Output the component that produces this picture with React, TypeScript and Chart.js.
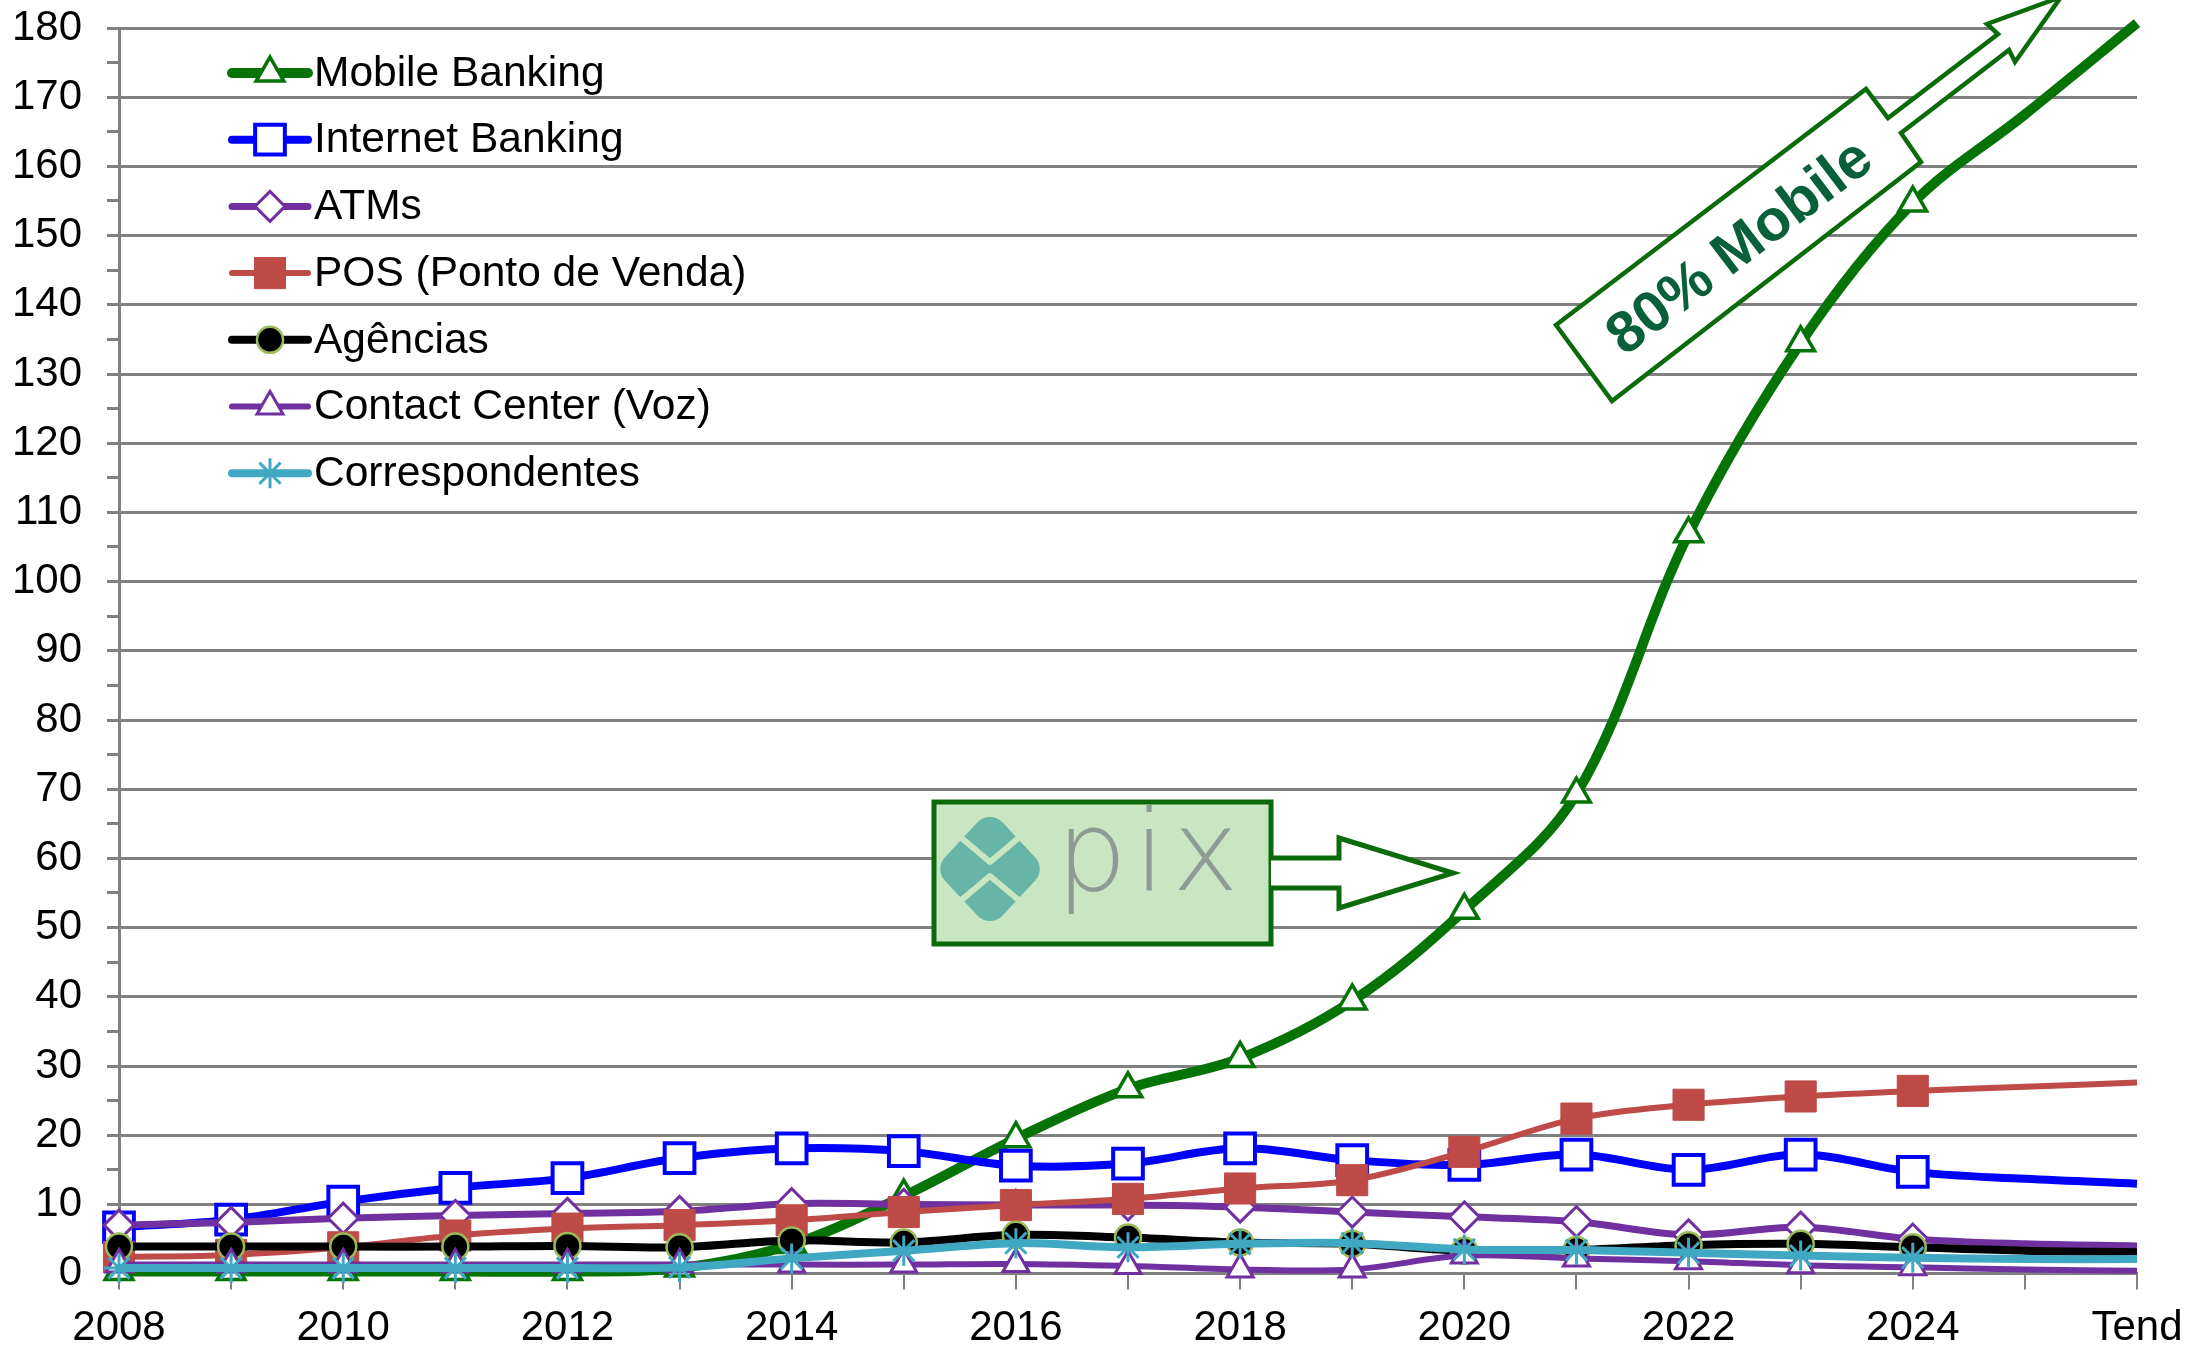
import React, { useEffect, useRef } from 'react';
import { Chart, registerables } from 'chart.js';
import { drawPoint } from 'chart.js/helpers';

Chart.register(...registerables);

const FONT = '"Liberation Sans", Arial, Helvetica, sans-serif';

// ---------- data ----------
const categories = ['2008', '2009', '2010', '2011', '2012', '2013', '2014', '2015', '2016', '2017', '2018', '2019', '2020', '2021', '2022', '2023', '2024', '2025', 'Tend'];
const seriesNames = ['Mobile Banking', 'Internet Banking', 'ATMs', 'POS (Ponto de Venda)', 'Agências', 'Contact Center (Voz)', 'Correspondentes'];
const mobileBanking = [0.3, 0.3, 0.3, 0.3, 0.3, 0.8, 4.2, 11.2, 19.5, 26.7, 31.1, 39.4, 52.5, 69.3, 106.9, 134.5, 154.7, 167.5, 180.7];
const internetBanking = [6.7, 7.8, 10.4, 12.4, 13.8, 16.7, 18.1, 17.7, 15.6, 15.9, 18.1, 16.4, 15.7, 17.2, 15.0, 17.2, 14.7, 13.7, 13.0];
const atms = [7.0, 7.4, 8.0, 8.4, 8.7, 9.0, 10.1, 10.0, 9.9, 9.9, 9.6, 8.9, 8.2, 7.5, 5.6, 6.7, 5.0, 4.3, 4.0];
const pos = [2.4, 2.7, 3.8, 5.5, 6.5, 7.0, 7.7, 8.9, 9.9, 10.8, 12.3, 13.5, 17.6, 22.4, 24.4, 25.6, 26.4, 27.0, 27.6];
const agencias = [3.9, 3.9, 3.9, 3.9, 4.0, 3.8, 4.8, 4.5, 5.6, 5.2, 4.5, 4.3, 3.3, 3.4, 4.1, 4.3, 3.8, 3.3, 3.1];
const contactCenter = [1.3, 1.3, 1.3, 1.3, 1.3, 1.3, 1.3, 1.3, 1.4, 1.1, 0.6, 0.6, 2.6, 2.2, 1.8, 1.2, 0.9, 0.6, 0.4];
const correspondentes = [0.8, 0.8, 0.8, 0.8, 0.8, 0.9, 2.2, 3.3, 4.4, 3.8, 4.3, 4.4, 3.5, 3.4, 3.0, 2.6, 2.3, 2.1, 2.1];
const yTickValues = [0, 10, 20, 30, 40, 50, 60, 70, 80, 90, 100, 110, 120, 130, 140, 150, 160, 170, 180];
const lastMarkedCategory = '2024';

const seriesValues = [mobileBanking, internetBanking, atms, pos, agencias, contactCenter, correspondentes];

// ---------- styles ----------
type Style = { color: string; width: number; marker: string; radius: number; fill: string; border: string; bw: number; order: number };
const styles: Style[] = [
  { color: '#067306', width: 10, marker: 'triangle', radius: 16, fill: '#ffffff', border: '#067306', bw: 3.5, order: 7 },
  { color: '#0000ff', width: 8, marker: 'rect', radius: 21, fill: '#ffffff', border: '#0000ff', bw: 4, order: 6 },
  { color: '#7030a0', width: 7, marker: 'rectRot', radius: 15, fill: '#ffffff', border: '#7030a0', bw: 3, order: 5 },
  { color: '#be4b48', width: 6, marker: 'rect', radius: 22, fill: '#be4b48', border: '#be4b48', bw: 1, order: 4 },
  { color: '#000000', width: 8, marker: 'circle', radius: 13, fill: '#000000', border: '#9bbb59', bw: 2.5, order: 3 },
  { color: '#7030a0', width: 6, marker: 'triangle', radius: 15, fill: '#ffffff', border: '#7030a0', bw: 3, order: 2 },
  { color: '#40a8c2', width: 8, marker: 'star', radius: 15, fill: '#40a8c2', border: '#40a8c2', bw: 3, order: 1 },
];

const lastMarkedIndex = categories.indexOf(lastMarkedCategory);

const legendPlugin = {
  id: 'customLegend',
  afterDraw(chart: any) {
    const ctx = chart.ctx as CanvasRenderingContext2D;
    const x0 = 232, x1 = 308, tx = 314, y0 = 73, dy = 66.7;
    seriesNames.forEach((name, i) => {
      const s = styles[i];
      const y = y0 + i * dy;
      ctx.save();
      ctx.strokeStyle = s.color;
      ctx.lineWidth = s.width;
      ctx.lineCap = 'round';
      ctx.beginPath();
      ctx.moveTo(x0, y);
      ctx.lineTo(x1, y);
      ctx.stroke();
      ctx.fillStyle = s.fill;
      ctx.strokeStyle = s.border;
      ctx.lineWidth = s.bw;
      ctx.lineCap = 'butt';
      drawPoint(ctx, { pointStyle: s.marker, radius: s.radius, rotation: 0, borderWidth: s.bw } as any, (x0 + x1) / 2, y);
      ctx.fillStyle = '#000';
      ctx.font = `42.5px ${FONT}`;
      ctx.textAlign = 'left';
      ctx.textBaseline = 'middle';
      ctx.fillText(name, tx, y + 1);
      ctx.restore();
    });
  },
};

const annotationPlugin = {
  id: 'annotations',
  afterDraw(chart: any) {
    const ctx = chart.ctx as CanvasRenderingContext2D;
    const green = '#0b6b0b';
    ctx.save();
    // "80% Mobile" callout arrow
    const callout = [[1556, 325], [1866, 89], [1888, 118], [1998, 34], [1987, 24], [2061, -3], [2015, 62], [2009, 50], [1901, 133], [1921, 162], [1612, 401]];
    ctx.beginPath();
    callout.forEach(([x, y], i) => (i ? ctx.lineTo(x, y) : ctx.moveTo(x, y)));
    ctx.closePath();
    ctx.fillStyle = '#ffffff';
    ctx.fill();
    ctx.strokeStyle = green;
    ctx.lineWidth = 4.5;
    ctx.lineJoin = 'miter';
    ctx.stroke();
    ctx.save();
    ctx.translate(1739, 246);
    ctx.rotate(Math.atan2(-236, 310));
    ctx.font = `bold 58px ${FONT}`;
    ctx.fillStyle = '#07603a';
    ctx.textAlign = 'center';
    ctx.textBaseline = 'middle';
    ctx.fillText('80% Mobile', 0, 3);
    ctx.restore();

    // PIX box
    const bx = 934, by = 802, bw = 337, bh = 142;
    ctx.fillStyle = '#c8e6c2';
    ctx.fillRect(bx, by, bw, bh);
    // pix logo diamond
    const cx = 990, cy = 869, w = 56, h = 60, r = 17;
    ctx.fillStyle = '#66b5a7';
    ctx.beginPath();
    ctx.moveTo(cx - w / 2, cy - h / 2);
    ctx.arcTo(cx, cy - h, cx + w / 2, cy - h / 2, r);
    ctx.arcTo(cx + w, cy, cx + w / 2, cy + h / 2, r);
    ctx.arcTo(cx, cy + h, cx - w / 2, cy + h / 2, r);
    ctx.arcTo(cx - w, cy, cx - w / 2, cy - h / 2, r);
    ctx.closePath();
    ctx.fill();
    ctx.strokeStyle = '#c8e6c2';
    ctx.lineWidth = 6;
    ctx.lineJoin = 'round';
    ctx.beginPath();
    ctx.moveTo(cx - 44, cy - 44);
    ctx.lineTo(cx, cy - 7);
    ctx.lineTo(cx + 44, cy - 44);
    ctx.moveTo(cx - 44, cy + 44);
    ctx.lineTo(cx, cy + 7);
    ctx.lineTo(cx + 44, cy + 44);
    ctx.stroke();
    // pix word
    ctx.font = `200 112px "DejaVu Sans", ${FONT}`;
    ctx.fillStyle = '#8e9b95';
    ctx.textAlign = 'left';
    ctx.textBaseline = 'alphabetic';
    (ctx as any).letterSpacing = '7px';
    ctx.fillText('pix', 1056, 890);
    (ctx as any).letterSpacing = '0px';
    ctx.lineJoin = 'miter';
    ctx.strokeStyle = green;
    ctx.lineWidth = 5;
    ctx.strokeRect(bx, by, bw, bh);
    // arrow
    ctx.beginPath();
    ctx.moveTo(bx + bw, 858);
    ctx.lineTo(1339, 858);
    ctx.lineTo(1339, 838);
    ctx.lineTo(1453, 873);
    ctx.lineTo(1339, 908);
    ctx.lineTo(1339, 888);
    ctx.lineTo(bx + bw, 888);
    ctx.fillStyle = '#ffffff';
    ctx.fill();
    ctx.stroke();
    ctx.restore();
  },
};

export default function App() {
  const ref = useRef<HTMLCanvasElement>(null);
  useEffect(() => {
    if (!ref.current) return;
    const datasets = seriesNames.map((name, i) => {
      const s = styles[i];
      return {
        label: name,
        data: seriesValues[i],
        borderColor: s.color,
        backgroundColor: s.fill,
        borderWidth: s.width,
        pointStyle: s.marker,
        pointRadius: (c: any) => (c.dataIndex <= lastMarkedIndex ? s.radius : 0),
        pointBackgroundColor: s.fill,
        pointBorderColor: s.border,
        pointBorderWidth: s.bw,
        tension: 0.35,
        order: s.order,
        clip: false as any,
        fill: false,
      };
    });
    const chart = new Chart(ref.current, {
      type: 'line',
      data: { labels: categories, datasets },
      options: {
        responsive: false,
        animation: false,
        events: [],
        layout: { padding: { left: 0, right: 55, top: 28, bottom: 0 } },
        plugins: { legend: { display: false }, tooltip: { enabled: false } },
        scales: {
          x: {
            type: 'category',
            offset: false,
            afterFit: (scale: any) => {
              scale.height = 1355 - 1273.6;
              scale.paddingLeft = 0;
              scale.paddingRight = 0;
            },
            grid: { drawOnChartArea: false, drawTicks: true, tickLength: 16, color: '#808080', lineWidth: 2 },
            border: { display: true, color: '#808080', width: 3 },
            ticks: {
              autoSkip: false,
              maxRotation: 0,
              minRotation: 0,
              padding: 14,
              color: '#000',
              font: { size: 42, family: FONT },
              callback: (_v: any, i: number) => (i % 2 === 0 ? categories[i] : ''),
            },
          },
          y: {
            min: 0,
            max: 180,
            afterFit: (scale: any) => {
              scale.width = 119;
              scale.paddingTop = 0;
              scale.paddingBottom = 0;
            },
            grid: {
              color: (c: any) => (c.tick && yTickValues.includes(c.tick.value) ? '#808080' : 'rgba(0,0,0,0)'),
              tickColor: '#808080',
              lineWidth: 3,
              tickLength: 12,
              drawTicks: true,
            },
            border: { display: true, color: '#808080', width: 3 },
            ticks: {
              stepSize: 5,
              autoSkip: false,
              padding: 25,
              color: '#000',
              font: { size: 42, family: FONT },
              callback: (v: any) => (yTickValues.includes(v) ? String(v) : ''),
            },
          },
        },
      },
      plugins: [annotationPlugin, legendPlugin],
    } as any);
    return () => chart.destroy();
  }, []);
  return (
    <div style={{ position: 'absolute', left: 0, top: 0, width: 2192, height: 1355, background: '#ffffff' }}>
      <canvas ref={ref} width={2192} height={1355} style={{ display: 'block' }} />
    </div>
  );
}
